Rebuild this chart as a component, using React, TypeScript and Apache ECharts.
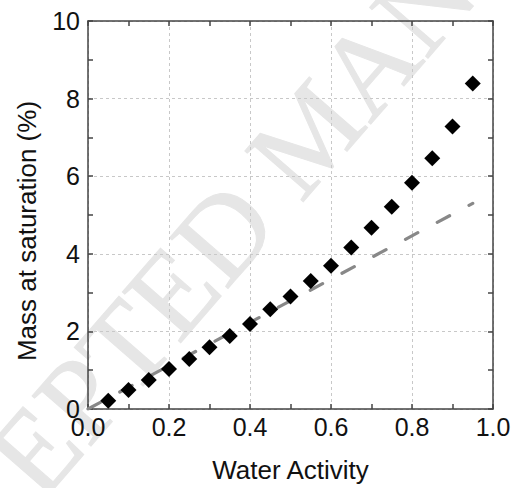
import React, { useEffect, useRef } from "react";
import * as echarts from "echarts";

const waterActivity = [0.05, 0.1, 0.15, 0.2, 0.25, 0.3, 0.35, 0.4, 0.45, 0.5, 0.55, 0.6, 0.65, 0.7, 0.75, 0.8, 0.85, 0.9, 0.95];
const massSaturation = [0.21, 0.49, 0.75, 1.03, 1.29, 1.59, 1.88, 2.19, 2.57, 2.9, 3.3, 3.69, 4.16, 4.67, 5.21, 5.83, 6.46, 7.28, 8.39];
const fitX = [0, 0.95];
const fitY = [0, 5.3];
const xTitle = "Water Activity";
const yTitle = "Mass at saturation (%)";
const watermark = "ACCEPTED MANUSCRIPT";

const FONT = '"Liberation Sans", Arial, sans-serif';
const AXIS_COLOR = "#444";

export default function App() {
  const ref = useRef<HTMLDivElement>(null);
  useEffect(() => {
    if (!ref.current) return;
    const chart = echarts.init(ref.current, null, { renderer: "svg" });
    const lineStyle = { color: AXIS_COLOR, width: 1.5 };
    const baseX = {
      type: "value" as const,
      min: 0,
      max: 1,
      interval: 0.2,
      axisLine: { show: true, onZero: false, lineStyle },
      axisTick: { show: true, inside: true, length: 5, lineStyle },
      minorTick: { show: true, splitNumber: 2, length: 5, lineStyle },
    };
    const baseY = {
      type: "value" as const,
      min: 0,
      max: 10,
      interval: 2,
      axisLine: { show: true, onZero: false, lineStyle },
      axisTick: { show: true, inside: true, length: 5, lineStyle },
      minorTick: { show: true, splitNumber: 2, length: 5, lineStyle },
    };
    const gridLine = { show: true, lineStyle: { type: [3, 3], color: "#c8c8c8", width: 1 } };
    const start = { x: -148, y: 661 };
    chart.setOption({
      animation: false,
      backgroundColor: "#fff",
      grid: { left: 88, top: 21, width: 405, height: 388, containLabel: false },
      xAxis: [
        {
          ...baseX,
          position: "bottom",
          splitLine: gridLine,
          axisLabel: {
            fontSize: 25,
            color: "#111",
            fontFamily: FONT,
            margin: 5,
            formatter: (v: number) => v.toFixed(1),
          },
          name: xTitle,
          nameLocation: "middle",
          nameGap: 48,
          nameTextStyle: { fontSize: 26, color: "#111", fontFamily: FONT },
        },
        {
          ...baseX,
          position: "top",
          splitLine: { show: false },
          axisLabel: { show: false },
        },
      ],
      yAxis: [
        {
          ...baseY,
          position: "left",
          splitLine: gridLine,
          axisLabel: {
            fontSize: 25,
            color: "#111",
            fontFamily: FONT,
            margin: 8,
            formatter: (v: number) => String(v),
          },
        },
        {
          ...baseY,
          position: "right",
          splitLine: { show: false },
          axisLabel: { show: false },
        },
      ],
      graphic: [
        {
          type: "text",
          x: start.x,
          y: start.y,
          rotation: (49 * Math.PI) / 180,
          silent: true,
          z: -10,
          style: {
            text: watermark,
            font: '118px "Liberation Serif", "Times New Roman", serif',
            fill: "#e6e6e6",
            stroke: "#e6e6e6",
            lineWidth: 1,
            align: "left",
            verticalAlign: "middle",
          },
        },
        {
          type: "text",
          x: 27,
          y: 231,
          rotation: Math.PI / 2,
          style: {
            text: yTitle,
            font: '26px "Liberation Sans", Arial, sans-serif',
            fill: "#111",
            align: "center",
            verticalAlign: "middle",
          },
        },
      ],
      series: [
        {
          type: "line",
          xAxisIndex: 0,
          yAxisIndex: 0,
          data: fitX.map((x, i) => [x, fitY[i]]),
          showSymbol: false,
          symbol: "none",
          z: 2,
          lineStyle: { color: "#888", width: 3.2, type: [14, 22], cap: "round" },
        },
        {
          type: "scatter",
          xAxisIndex: 0,
          yAxisIndex: 0,
          data: waterActivity.map((x, i) => [x, massSaturation[i]]),
          symbol: "diamond",
          symbolSize: 16,
          z: 3,
          itemStyle: { color: "#000", opacity: 1 },
        },
      ],
    });
    return () => chart.dispose();
  }, []);
  return (
    <div
      ref={ref}
      style={{ position: "fixed", left: 0, top: 0, width: 516, height: 488 }}
    />
  );
}
